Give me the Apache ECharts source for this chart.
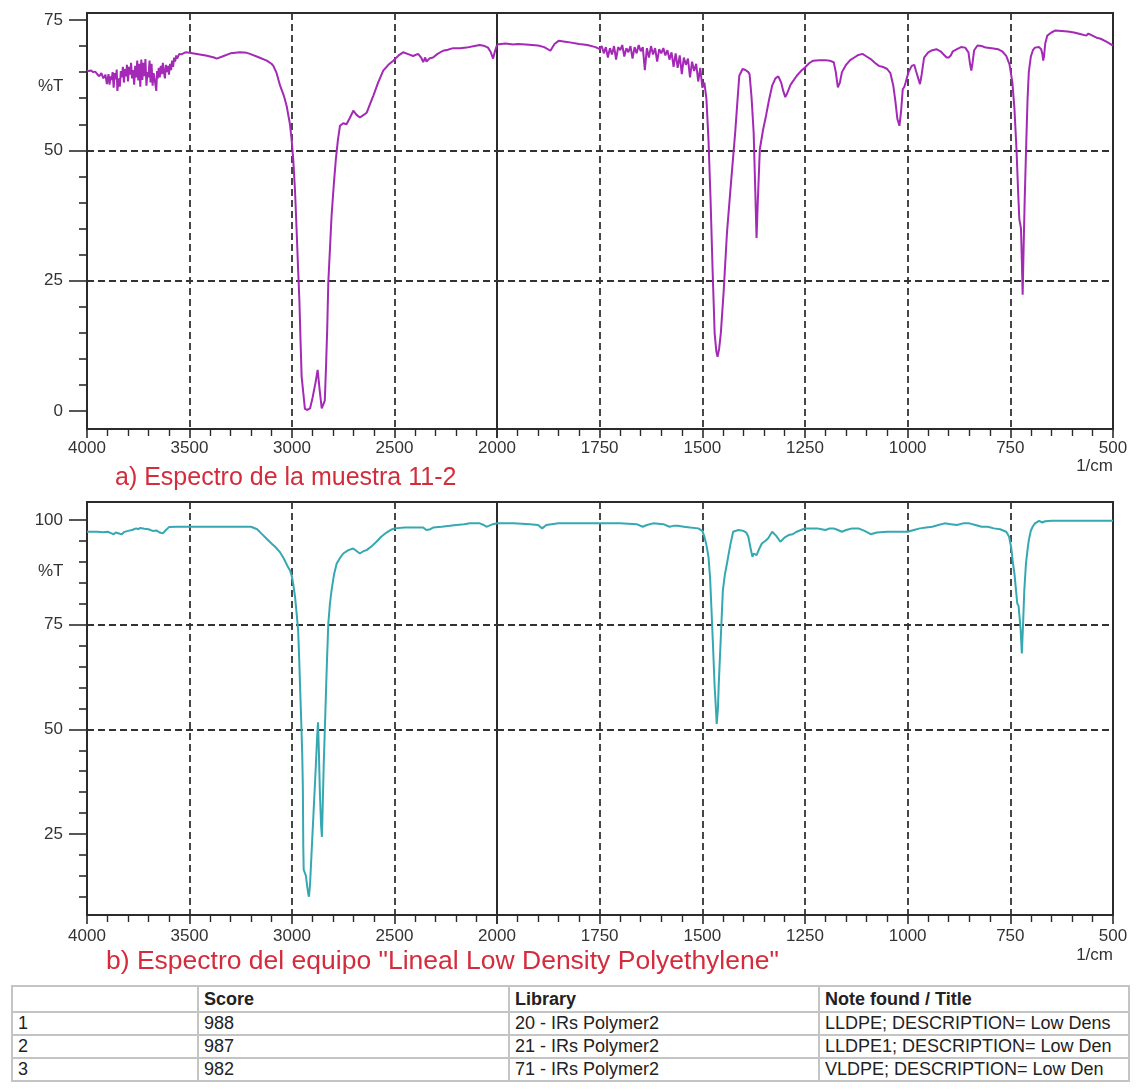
<!DOCTYPE html>
<html>
<head>
<meta charset="utf-8">
<script src="https://cdn.jsdelivr.net/npm/echarts@6/dist/echarts.min.js"></script>
<style>
  html, body { margin: 0; padding: 0; background: #fff; }
  #chart { position: absolute; left: 0; top: 0; width: 1137px; height: 985px; }
  #tbl { position: absolute; left: 11px; top: 985px; width: 1117px; border-collapse: collapse;
         font-family: "Liberation Sans", Arial, sans-serif; font-size: 18px; color: #222; table-layout: fixed; }
  #tbl td { border: 2px solid #c4c4c4; padding: 0 5px; height: 21px; white-space: nowrap; overflow: hidden; line-height: 21px; }
  #tbl tr.h td { font-weight: bold; height: 24px; line-height: 24px; }
</style>
</head>
<body>
<div id="chart"></div>
<table id="tbl"></table>
<script>
// ---------- DATA ----------
// Sample 11-2 spectrum, 4000-2000 1/cm  [wavenumber, %T]
const sampleHigh = [
 [4000,65.3],[3990,65.2],[3980,65.3],[3970,65.0],[3960,65.1],[3950,64.6],[3940,64.2],[3930,64.8],[3920,63.8],[3910,64.5],
 [3903,62.7],[3895,64.6],[3890,62.6],[3885,64.2],[3880,63.5],[3875,65.0],[3870,62.0],[3865,64.8],[3860,63.6],[3855,65.5],
 [3852,61.4],[3845,63.8],[3840,62.2],[3835,65.2],[3830,64.0],[3825,66.0],[3820,63.0],[3815,65.6],[3810,64.2],[3805,66.4],
 [3800,63.2],[3795,66.0],[3790,64.5],[3785,66.8],[3780,63.8],[3775,65.4],[3770,62.6],[3765,66.2],[3760,64.0],[3755,67.2],
 [3750,63.4],[3745,66.6],[3740,62.2],[3735,67.4],[3730,63.5],[3725,66.8],[3720,64.2],[3715,67.5],[3710,62.4],[3705,65.0],
 [3700,64.0],[3695,67.2],[3690,63.0],[3685,66.6],[3680,62.4],[3675,64.8],[3670,63.6],[3662,61.4],[3658,65.2],[3655,63.8],
 [3650,65.8],[3645,64.0],[3640,66.2],[3635,64.6],[3630,66.8],[3625,65.0],[3620,63.8],[3615,66.4],[3610,65.0],[3605,66.2],
 [3600,64.5],[3595,66.6],[3590,65.4],[3585,67.2],[3580,66.0],[3575,67.8],[3570,67.0],[3565,68.2],[3560,67.6],[3550,68.5],
 [3540,68.4],[3520,68.8],[3500,68.7],[3450,68.4],[3420,68.2],[3400,68.0],[3380,67.8],[3367,67.6],[3340,68.0],[3300,68.6],
 [3253,68.8],[3220,68.7],[3205,68.5],[3160,67.8],[3123,67.2],[3100,66.6],[3091,66.2],[3075,64.8],[3058,62.4],[3040,60.5],
 [3026,58.5],[3010,55.0],[3002,52.1],[2994,48.3],[2985,42.0],[2977,34.2],[2970,27.0],[2964,21.3],[2958,13.0],[2953,6.6],
 [2945,3.5],[2937,0.4],[2925,0.2],[2912,0.5],[2900,2.5],[2885,5.5],[2875,7.9],[2865,4.0],[2855,0.5],[2847,0.2],
 [2840,2.0],[2834,8.5],[2828,16.0],[2823,24.6],[2815,31.0],[2807,37.4],[2796,43.5],[2786,48.3],[2776,52.0],[2766,54.7],
 [2750,55.2],[2734,55.0],[2718,56.2],[2701,57.6],[2685,56.8],[2669,56.3],[2650,56.8],[2636,57.2],[2620,58.8],[2604,60.4],
 [2580,63.0],[2555,65.3],[2530,66.4],[2506,67.2],[2480,68.2],[2458,68.8],[2430,68.4],[2409,68.1],[2385,68.5],[2370,67.8],
 [2360,66.9],[2350,67.8],[2344,67.0],[2330,67.6],[2312,67.8],[2290,68.5],[2263,69.1],[2240,69.3],[2214,69.6],[2180,69.6],
 [2149,69.7],[2110,70.0],[2084,70.2],[2060,70.0],[2044,69.7],[2030,68.8],[2019,67.6],[2010,69.0],[2000,70.2]
];
// Sample 11-2 spectrum, 2000-500 1/cm
const sampleLow = [
 [2000,70.3],[1980,70.5],[1960,70.3],[1950,70.4],[1930,70.3],[1900,70.1],[1885,69.8],[1870,69.1],[1860,70.4],[1850,71.0],
 [1830,70.8],[1800,70.4],[1780,70.2],[1760,69.8],[1750,69.4],[1745,70.0],[1740,68.6],[1735,69.8],[1730,67.8],[1725,69.6],
 [1720,68.4],[1715,70.0],[1710,67.4],[1705,69.8],[1700,69.2],[1695,70.2],[1690,68.0],[1685,69.6],[1680,68.8],[1675,70.0],
 [1670,67.6],[1665,69.8],[1660,68.6],[1655,70.2],[1650,69.0],[1645,69.8],[1640,65.4],[1635,69.6],[1630,67.8],[1625,70.0],
 [1620,68.4],[1615,69.6],[1610,67.0],[1605,69.4],[1600,68.6],[1595,69.6],[1590,68.2],[1585,69.2],[1580,67.4],[1575,68.8],
 [1570,66.0],[1565,68.6],[1560,65.8],[1555,68.2],[1550,64.6],[1545,67.8],[1540,66.4],[1535,67.6],[1530,64.0],[1525,67.0],
 [1520,65.2],[1515,66.6],[1510,63.2],[1505,65.8],[1500,62.0],[1495,63.0],[1490,59.8],[1485,52.0],[1480,40.6],[1475,27.0],
 [1470,14.9],[1466,11.5],[1463,10.4],[1459,12.0],[1455,14.9],[1448,23.0],[1440,34.2],[1430,44.0],[1420,53.4],[1414,60.0],
 [1410,64.3],[1402,65.6],[1395,65.4],[1388,65.0],[1385,64.6],[1380,60.0],[1375,53.4],[1371,42.0],[1368,33.2],[1365,40.0],
 [1360,50.2],[1352,54.0],[1345,56.6],[1338,59.5],[1330,62.4],[1322,63.8],[1315,64.2],[1308,63.0],[1303,61.4],[1298,60.2],
 [1293,61.0],[1285,62.6],[1270,64.3],[1260,65.2],[1250,65.9],[1240,66.7],[1230,67.2],[1215,67.3],[1200,67.3],[1190,67.2],
 [1180,66.9],[1175,65.0],[1170,62.1],[1165,63.0],[1160,65.0],[1150,66.4],[1140,67.3],[1130,67.8],[1120,68.3],[1110,68.5],
 [1100,68.0],[1090,67.5],[1080,66.8],[1070,66.2],[1060,66.0],[1050,65.6],[1042,64.8],[1035,62.4],[1030,59.5],[1025,56.0],
 [1020,54.7],[1016,57.5],[1012,61.7],[1008,62.2],[1005,63.0],[998,65.0],[990,66.2],[984,66.4],[980,65.3],[975,64.0],
 [970,62.7],[966,64.5],[960,67.8],[950,68.8],[940,69.2],[930,69.4],[920,69.0],[910,68.2],[905,67.8],[900,67.8],
 [895,68.2],[890,69.0],[880,69.4],[870,69.8],[860,69.7],[852,68.8],[848,66.5],[845,65.3],[842,66.8],[838,69.2],
 [830,70.1],[820,70.0],[810,69.7],[795,69.6],[780,69.4],[770,69.0],[760,68.1],[752,66.5],[745,63.0],[740,58.0],
 [735,50.2],[731,42.0],[728,36.7],[725,35.5],[724,34.8],[722,29.0],[720,22.3],[718,30.0],[715,40.6],[711,52.0],
 [708,60.0],[705,65.0],[700,68.0],[695,69.2],[690,69.7],[680,69.8],[675,69.4],[672,68.5],[670,67.2],[668,68.0],
 [665,70.5],[660,72.0],[650,72.6],[640,73.0],[625,72.9],[610,72.8],[595,72.6],[580,72.3],[565,72.0],[560,72.4],
 [550,72.0],[540,71.6],[530,71.4],[515,70.8],[500,70.1]
];
// Library spectrum "Lineal Low Density Polyethylene", 4000-2000 1/cm
const refHigh = [
 [4000,97.2],[3950,97.2],[3920,97.1],[3900,97.2],[3880,96.8],[3870,96.6],[3860,97.0],[3840,96.7],[3830,96.6],[3820,97.1],
 [3800,97.4],[3780,97.6],[3760,98.0],[3750,97.8],[3740,98.1],[3720,97.9],[3700,97.8],[3680,97.4],[3660,97.5],[3645,97.0],
 [3630,96.8],[3615,97.6],[3600,98.3],[3560,98.4],[3500,98.4],[3400,98.4],[3300,98.4],[3200,98.4],[3170,97.8],[3150,96.8],
 [3125,95.6],[3100,94.4],[3080,93.5],[3060,92.4],[3040,90.8],[3020,88.8],[3010,88.0],[3000,86.4],[2992,84.0],[2985,81.6],
 [2978,78.0],[2970,73.6],[2965,67.0],[2960,59.3],[2955,52.0],[2950,44.0],[2947,36.0],[2945,22.0],[2943,16.5],[2938,16.8],
 [2932,15.0],[2926,12.5],[2920,10.5],[2917,10.0],[2912,13.0],[2905,20.0],[2895,30.0],[2885,40.0],[2877,48.5],[2873,51.7],
 [2869,45.0],[2864,35.0],[2858,27.0],[2854,24.3],[2850,32.0],[2845,42.0],[2839,51.3],[2831,64.0],[2823,75.2],[2815,80.0],
 [2807,83.2],[2795,87.0],[2782,89.6],[2765,91.0],[2750,92.0],[2725,92.8],[2701,93.2],[2685,92.6],[2669,92.0],[2650,92.6],
 [2636,92.8],[2610,93.8],[2588,94.8],[2565,96.0],[2539,97.0],[2520,97.6],[2500,98.0],[2450,98.2],[2400,98.2],[2360,98.2],
 [2345,97.6],[2336,97.2],[2325,97.8],[2312,98.2],[2270,98.4],[2230,98.6],[2198,98.8],[2160,99.0],[2133,99.2],[2100,99.2],
 [2084,99.2],[2065,98.8],[2052,98.4],[2040,98.6],[2020,99.0],[2000,99.2]
];
// Library spectrum, 2000-500 1/cm
const refLow = [
 [2000,99.2],[1960,99.2],[1920,99.0],[1900,98.8],[1890,98.0],[1880,98.8],[1850,99.2],[1800,99.2],[1750,99.2],[1700,99.2],
 [1660,99.0],[1645,98.4],[1635,98.8],[1620,99.2],[1595,99.0],[1580,98.4],[1570,98.6],[1560,98.6],[1545,98.4],[1530,98.2],
 [1510,98.0],[1500,97.4],[1495,96.0],[1490,94.0],[1485,91.2],[1481,86.0],[1478,79.2],[1474,70.0],[1470,60.1],[1467,55.0],
 [1465,51.3],[1462,55.0],[1460,60.8],[1455,72.0],[1450,83.2],[1445,87.0],[1440,89.6],[1432,94.0],[1425,97.2],[1412,97.6],
 [1400,97.4],[1393,97.0],[1388,96.0],[1383,93.5],[1378,91.2],[1375,92.0],[1372,92.4],[1368,91.6],[1362,93.0],[1355,94.4],
 [1347,95.0],[1340,95.6],[1330,97.2],[1320,96.2],[1310,94.8],[1300,95.8],[1290,96.4],[1280,96.6],[1270,97.2],[1260,97.6],
 [1250,98.0],[1235,98.0],[1220,98.0],[1210,97.8],[1200,97.6],[1190,98.0],[1180,98.0],[1170,97.6],[1160,97.2],[1150,97.6],
 [1135,98.0],[1120,98.0],[1105,97.4],[1090,96.6],[1075,97.0],[1050,97.2],[1025,97.2],[1000,97.2],[985,97.6],[970,98.0],
 [955,98.2],[940,98.4],[925,98.8],[910,99.2],[895,99.0],[880,98.8],[865,99.2],[850,99.2],[835,98.8],[820,98.4],
 [805,98.4],[790,98.0],[775,97.8],[760,97.2],[753,96.0],[748,93.5],[744,90.0],[740,87.2],[736,83.0],[733,80.0],
 [730,79.5],[728,79.2],[725,74.0],[722,68.1],[719,75.0],[716,83.2],[712,89.5],[708,93.0],[705,95.2],[700,97.5],
 [695,98.5],[690,99.2],[680,99.8],[672,99.4],[665,99.7],[650,99.8],[600,99.8],[550,99.8],[500,99.8]
];
// Axis ticks / labels
const topYTicks = [0, 25, 50, 75];
const bottomYTicks = [25, 50, 75, 100];
const captionA = 'a) Espectro de la muestra 11-2';
const captionB = 'b) Espectro del equipo "Lineal Low Density Polyethylene"';
const yAxisName = '%T';
const xAxisName = '1/cm';
const tableHeader = ['', 'Score', 'Library', 'Note found / Title'];
const tableRows = [
  ['1', '988', '20 - IRs Polymer2', 'LLDPE; DESCRIPTION= Low Dens'],
  ['2', '987', '21 - IRs Polymer2', 'LLDPE1; DESCRIPTION= Low Den'],
  ['3', '982', '71 - IRs Polymer2', 'VLDPE; DESCRIPTION= Low Den']
];

// ---------- TABLE ----------
(function () {
  const tbl = document.getElementById('tbl');
  const widths = [186, 311, 310, 310];
  const cg = document.createElement('colgroup');
  widths.forEach(w => { const c = document.createElement('col'); c.style.width = w + 'px'; cg.appendChild(c); });
  tbl.appendChild(cg);
  const mk = (cells, cls) => {
    const tr = document.createElement('tr');
    if (cls) tr.className = cls;
    cells.forEach(t => { const td = document.createElement('td'); td.textContent = t; tr.appendChild(td); });
    tbl.appendChild(tr);
  };
  mk(tableHeader, 'h');
  tableRows.forEach(r => mk(r));
})();

// ---------- CHART ----------
const FONT = '"Liberation Sans", Arial, sans-serif';
const AX = '#2b2b2b';
const dash = { color: '#333', width: 1.8, type: [7, 4] };
const grids = [
  { left: 87, top: 13, width: 410, height: 416 },
  { left: 497, top: 13, width: 616, height: 416 },
  { left: 87, top: 502, width: 410, height: 413 },
  { left: 497, top: 502, width: 616, height: 413 }
].map(g => Object.assign(g, { show: true, borderColor: AX, borderWidth: 2, backgroundColor: '#fff', containLabel: false, outerBoundsMode: 'none' }));

function xAx(gi, lo, hi, step, labelMargin, hideMax) {
  return {
    type: 'value', gridIndex: gi, min: lo, max: hi, interval: step, inverse: true, position: 'bottom',
    axisLine: { show: true, onZero: false, lineStyle: { color: AX, width: 2 } },
    axisTick: { show: true, length: 9, lineStyle: { color: AX, width: 1.6 } },
    minorTick: { show: true, splitNumber: 5, length: 7, lineStyle: { color: AX, width: 1.4 } },
    axisLabel: { color: '#333', fontSize: 17, fontFamily: FONT, margin: labelMargin, showMaxLabel: !hideMax, showMinLabel: true,
                 formatter: v => String(v) },
    splitLine: { show: true, showMinLine: false, showMaxLine: false, lineStyle: dash },
    minorSplitLine: { show: false }
  };
}
function yAx(gi, lo, hi, ticks, withLabels) {
  return {
    type: 'value', gridIndex: gi, min: lo, max: hi, minInterval: 25, maxInterval: 25, position: 'left',
    axisLine: { show: withLabels, onZero: false, lineStyle: { color: AX, width: 2 } },
    axisTick: { show: withLabels, customValues: ticks, length: 18, lineStyle: { color: AX, width: 1.6 } },
    minorTick: { show: withLabels, splitNumber: 5, length: 8, lineStyle: { color: AX, width: 1.6 } },
    axisLabel: { show: withLabels, customValues: ticks, color: '#333', fontSize: 17, fontFamily: FONT, margin: 24,
                 formatter: v => (ticks.indexOf(v) >= 0 ? String(v) : '') },
    splitLine: { show: true, showMinLine: false, showMaxLine: false, lineStyle: dash }
  };
}
function line(xi, data, color) {
  return {
    type: 'line', xAxisIndex: xi, yAxisIndex: xi, data: data, showSymbol: false, symbol: 'none',
    smooth: false, clip: true, lineStyle: { color: color, width: 2 }, z: 5, silent: true
  };
}
const TOPMIN = -3.45, TOPMAX = 76.34, BOTMIN = 5.65, BOTMAX = 104.3;
const PURPLE = '#a429b6', TEAL = '#36a8b2';
const option = {
  animation: false,
  backgroundColor: '#fff',
  textStyle: { fontFamily: FONT },
  grid: grids,
  xAxis: [
    xAx(0, 2000, 4000, 500, 11, false),
    xAx(1, 500, 2000, 250, 11, true),
    xAx(2, 2000, 4000, 500, 13, false),
    xAx(3, 500, 2000, 250, 13, true)
  ],
  yAxis: [
    yAx(0, TOPMIN, TOPMAX, topYTicks, true),
    yAx(1, TOPMIN, TOPMAX, topYTicks, false),
    yAx(2, BOTMIN, BOTMAX, bottomYTicks, true),
    yAx(3, BOTMIN, BOTMAX, bottomYTicks, false)
  ],
  series: [
    line(0, sampleHigh, PURPLE),
    line(1, sampleLow, PURPLE),
    line(2, refHigh, TEAL),
    line(3, refLow, TEAL)
  ],
  graphic: [
    { type: 'text', left: 38, top: 78, style: { text: yAxisName, fontSize: 17, fontFamily: FONT, fill: '#333' } },
    { type: 'text', left: 38, top: 563, style: { text: yAxisName, fontSize: 17, fontFamily: FONT, fill: '#333' } },
    { type: 'text', right: 24, top: 458, style: { text: xAxisName, fontSize: 17, fontFamily: FONT, fill: '#333' } },
    { type: 'text', right: 24, top: 947, style: { text: xAxisName, fontSize: 17, fontFamily: FONT, fill: '#333' } },
    { type: 'text', left: 115, top: 466, style: { text: captionA, fontSize: 25, fontFamily: FONT, fill: '#d42c3c' } },
    { type: 'text', left: 106, top: 948, style: { text: captionB, fontSize: 26.5, fontFamily: FONT, fill: '#d42c3c' } }
  ]
};
const chart = echarts.init(document.getElementById('chart'), null, { renderer: 'canvas' });
chart.setOption(option);
</script>
</body>
</html>
